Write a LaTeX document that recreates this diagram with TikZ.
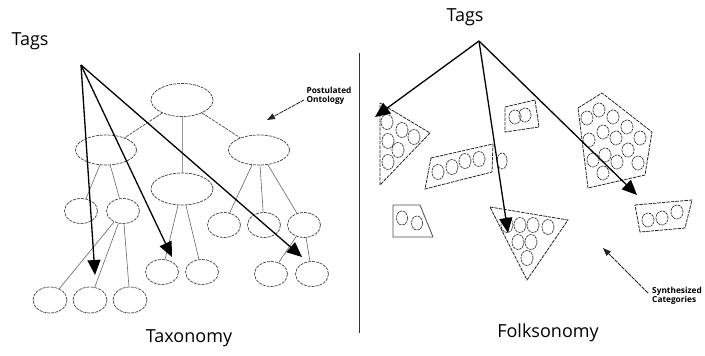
\documentclass[tikz,border=0pt]{standalone}
\usepackage{fontspec}
\setmainfont{Open Sans}
\usetikzlibrary{arrows.meta,shapes.geometric}
\begin{document}
\begin{tikzpicture}[x=1pt,y=-1pt,
  ell/.style={ellipse,draw=black!75,dash pattern=on 3pt off 1pt,line width=0.7pt,inner sep=0pt},
  bigE/.style={ell,minimum width=62pt,minimum height=33pt},
  midE/.style={ell,minimum width=61pt,minimum height=30pt},
  smallE/.style={ell,minimum width=33pt,minimum height=25pt},
  edge/.style={draw=black!60,line width=0.6pt},
  dedge/.style={draw=black!70,line width=0.7pt,dash pattern=on 3pt off 1pt},
  tagarrow/.style={draw=black,line width=1.3pt,-{Triangle[length=15pt,width=13pt]}},
  thinarrow/.style={draw=black!85,line width=0.8pt,dash pattern=on 4pt off 0.8pt,-{Triangle[length=8pt,width=6pt]}},
  cat/.style={draw=black!85,line width=0.8pt,dash pattern=on 3.5pt off 1pt},
  dot/.style={draw=black!80,line width=0.7pt,dash pattern=on 2.5pt off 0.8pt},
  lbl/.style={font=\fontsize{18}{20}\selectfont},
  small/.style={font=\bfseries\fontsize{8.3}{9.5}\selectfont,align=left,inner sep=0pt}
]
\useasboundingbox (0,0) rectangle (705,356);

% ---------- Taxonomy ----------
\node[bigE] (root) at (182,100) {};
\node[midE] (L1) at (106,150) {};
\node[bigE,minimum height=32pt] (M1) at (182,189) {};
\node[midE] (R1) at (259,150) {};
\node[smallE] (L2a) at (81,211) {};
\node[smallE] (L2b) at (123,211) {};
\node[smallE,minimum width=34pt,minimum height=26pt] (L3a) at (50,300) {};
\node[smallE,minimum width=34pt,minimum height=26pt] (L3b) at (90,300) {};
\node[smallE,minimum width=34pt,minimum height=26pt] (L3c) at (130,300) {};
\node[smallE] (M2a) at (162,272) {};
\node[smallE] (M2b) at (202,272) {};
\node[smallE] (R2a) at (224,225) {};
\node[smallE] (R2b) at (264,225) {};
\node[smallE] (R2c) at (304,225) {};
\node[smallE] (R3a) at (271,274) {};
\node[smallE] (R3b) at (312,274) {};

\path[dedge] (root) -- (L1);
\path[dedge] (root) -- (R1);
\path[edge,draw=black!40,line width=1pt] (root) -- (M1);
\path[edge] (L1) -- (L2a);
\path[edge] (L1) -- (L2b);
\path[edge] (L2b) -- (L3a);
\path[edge] (L2b) -- (L3b);
\path[edge] (L2b) -- (L3c);
\path[edge] (M1) -- (M2a);
\path[edge] (M1) -- (M2b);
\path[edge] (R1) -- (R2a);
\path[edge] (R1) -- (R2b);
\path[edge] (R1) -- (R2c);
\path[edge] (R2c) -- (R3a);
\path[edge] (R2c) -- (R3b);

\node[lbl] (tagsL) at (30,41) {Tags};
\coordinate (apexL) at (81,65);
\coordinate (tL1) at (95,275);
\coordinate (tL2) at (172,257);
\coordinate (tL3) at (302,257);
\draw[tagarrow] (apexL) -- (tL1);
\draw[tagarrow] (apexL) -- (tL2);
\draw[tagarrow] (apexL) -- (tL3);

\node[small] (post) at (329,96) {Postulated\\Ontology};
\coordinate (postS) at (304,100);
\coordinate (postE) at (267,120);
\draw[thinarrow] (postS) -- (postE);

\node[lbl] (tax) at (189,338) {Taxonomy};

% ---------- divider ----------
\coordinate (divT) at (359,53);
\coordinate (divB) at (359,333);
\draw[black!80,line width=1pt] (divT) -- (divB);

% ---------- Folksonomy ----------
% A: left triangle
\draw[cat] (380,103) -- (430,133) -- (380,185) -- cycle;
\foreach \p in {(387,122),(402,130),(414,137),(388,141),(398,150),(388,162)}
  \draw[dot] \p ellipse (6pt and 7.5pt);
% B: tilted rectangle
\draw[cat] (431,158) -- (493,144) -- (492,172) -- (425,189) -- cycle;
\foreach \p in {(438,172),(452,167),(465,161),(479,159)}
  \draw[dot] \p ellipse (6pt and 7.5pt);
\draw[dot] (502,161) ellipse (5pt and 8pt);
% C: small quad top
\draw[cat] (505,107) -- (535,100) -- (539,127) -- (505,132) -- cycle;
\foreach \p in {(515,117),(525,115)}
  \draw[dot] \p ellipse (6pt and 7pt);
% D: pentagon
\draw[cat] (578,108) -- (602,93) -- (652,132) -- (645,175) -- (588,188) -- cycle;
\foreach \p in {(587,118),(599,110),(613,117),(627,127),(640,138),(589,140),(603,132),(616,138),(628,150),(638,163),(593,160),(605,155),(617,162),(603,173)}
  \draw[dot] \p ellipse (6pt and 7pt);
% E: right trapezoid
\draw[cat] (635,205) -- (692,200) -- (685,228) -- (640,232) -- cycle;
\foreach \p in {(648,220),(662,218),(677,212)}
  \draw[dot] \p ellipse (6pt and 7pt);
% F: lower-left trapezoid
\draw[draw=black!70,line width=0.8pt] (393,205) -- (420,205) -- (433,237) -- (393,237) -- cycle;
\foreach \p in {(402,218),(417,223)}
  \draw[dot] \p ellipse (5.5pt and 7pt);
% G: inverted triangle
\draw[cat] (490,207) -- (568,220) -- (527,280) -- cycle;
\foreach \p in {(507,225),(520,225),(533,225),(548,227),(518,242),(531,242),(527,258)}
  \draw[dot] \p ellipse (6pt and 7.5pt);

\node[lbl] (tagsR) at (465,17) {Tags};
\coordinate (apexR) at (479,41);
\coordinate (tR1) at (375,117);
\coordinate (tR2) at (508,233);
\coordinate (tR3) at (637,195);
\draw[tagarrow] (apexR) -- (tR1);
\draw[tagarrow] (apexR) -- (tR2);
\draw[tagarrow] (apexR) -- (tR3);

\node[small] (syn) at (677,296) {Synthesized\\Categories};
\coordinate (synS) at (648,293);
\coordinate (synE) at (603,248);
\draw[thinarrow] (synS) -- (synE);

\node[lbl] (folk) at (548,333) {Folksonomy};
\end{tikzpicture}
\end{document}
